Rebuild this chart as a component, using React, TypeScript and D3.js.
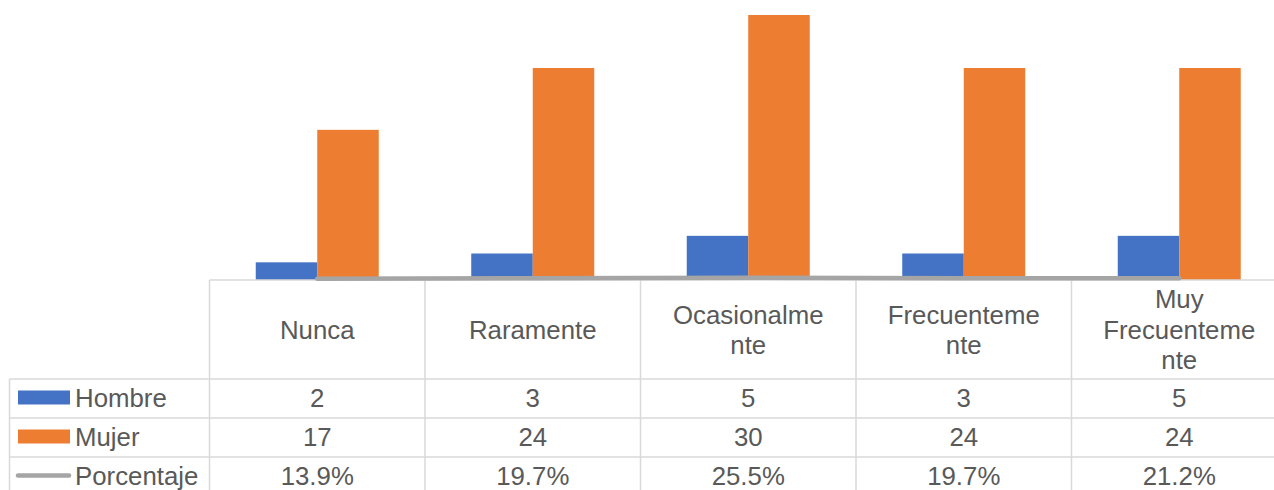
import React from "react";
import * as d3 from "d3";

const categories = ["Nunca", "Raramente", "Ocasionalmente", "Frecuentemente", "Muy Frecuentemente"];
const categoryLabelLines = [["Nunca"], ["Raramente"], ["Ocasionalme", "nte"], ["Frecuenteme", "nte"], ["Muy", "Frecuenteme", "nte"]];
const seriesNames = ["Hombre", "Mujer"];
const hombre = [2, 3, 5, 3, 5];
const mujer = [17, 24, 30, 24, 24];
const porcentaje = [0.139, 0.197, 0.255, 0.197, 0.212];

const W = 1274;
const H = 490;
const BLUE = "#4472c4";
const ORANGE = "#ed7d31";
const GREY = "#a5a5a5";
const GRID = "#d9d9d9";
const TEXT = "#595959";
const FONT = "'Liberation Sans', Arial, sans-serif";
const FS = 25.8;

export default function App() {
  const plotLeft = 209.5;
  const bandW = 215.5;
  const baseY = 280;
  const x0 = d3.scaleBand<string>().domain(categories).range([plotLeft, plotLeft + bandW * categories.length]).padding(0);
  const x1 = d3.scaleBand<string>().domain(seriesNames).range([0, x0.bandwidth()]).paddingInner(0).paddingOuter(0.752);
  const y = d3.scaleLinear().domain([0, 30]).range([baseY, 15]);
  const fmtPct = d3.format(".1%");

  const tableLeft = 9.5;
  const rowTops = [379, 418, 457];
  const rowH = 39;
  const tableRight = x0.range()[1];

  const lineGen = d3
    .line<number>()
    .x((_, i) => (x0(categories[i]) as number) + x0.bandwidth() / 2)
    .y((d) => y(d));

  const series = [
    { name: "Hombre", values: hombre, color: BLUE },
    { name: "Mujer", values: mujer, color: ORANGE },
  ];
  const rows = [
    { name: "Hombre", labels: hombre.map(String) },
    { name: "Mujer", labels: mujer.map(String) },
    { name: "Porcentaje", labels: porcentaje.map(fmtPct) },
  ];

  const lineH = 30.5;
  const catCenterY = (baseY + rowTops[0]) / 2;

  return (
    <svg width={W} height={H} style={{ position: "absolute", left: 0, top: 0, background: "#fff" }} fontFamily={FONT}>
      <rect width={W} height={H} fill="#fff" />
      {/* bars */}
      {series.map((s) =>
        s.values.map((v, i) => (
          <rect
            key={s.name + i}
            x={(x0(categories[i]) as number) + (x1(s.name) as number)}
            y={y(v)}
            width={x1.bandwidth()}
            height={baseY - y(v)}
            fill={s.color}
          />
        ))
      )}
      {/* table grid */}
      <g stroke={GRID} strokeWidth={1.5} fill="none">
        <line x1={plotLeft} x2={tableRight} y1={baseY} y2={baseY} />
        {rowTops.map((t) => (
          <line key={t} x1={tableLeft} x2={tableRight} y1={t} y2={t} />
        ))}
        <line x1={tableLeft} x2={tableLeft} y1={rowTops[0]} y2={H + 10} />
        {categories.map((c) => (
          <line key={c} x1={x0(c) as number} x2={x0(c) as number} y1={baseY} y2={H + 10} />
        ))}
      </g>
      {/* percentage line */}
      <path d={lineGen(porcentaje) || ""} fill="none" stroke={GREY} strokeWidth={4.5} strokeLinecap="round" strokeLinejoin="round" />
      {/* category labels */}
      {categories.map((c, i) => {
        const lines = categoryLabelLines[i];
        const cx = (x0(c) as number) + x0.bandwidth() / 2;
        const firstBase = catCenterY - ((lines.length - 1) * lineH) / 2 + FS * 0.36;
        return (
          <text key={c} x={cx} textAnchor="middle" fontSize={FS} fill={TEXT}>
            {lines.map((l, j) => (
              <tspan key={j} x={cx} y={firstBase + j * lineH}>
                {l}
              </tspan>
            ))}
          </text>
        );
      })}
      {/* data rows */}
      {rows.map((r, ri) => {
        const cy = rowTops[ri] + rowH / 2 - 1;
        return (
          <g key={r.name}>
            {r.name === "Porcentaje" ? (
              <line x1={18} x2={69} y1={cy} y2={cy} stroke={GREY} strokeWidth={4.5} strokeLinecap="round" />
            ) : (
              <rect x={18} y={cy - 7} width={52} height={14} fill={r.name === "Hombre" ? BLUE : ORANGE} />
            )}
            <text x={75} y={cy + FS * 0.36} fontSize={FS} fill={TEXT}>
              {r.name}
            </text>
            {r.labels.map((lab, i) => (
              <text
                key={i}
                x={(x0(categories[i]) as number) + x0.bandwidth() / 2}
                y={cy + FS * 0.36}
                textAnchor="middle"
                fontSize={FS}
                fill={TEXT}
              >
                {lab}
              </text>
            ))}
          </g>
        );
      })}
    </svg>
  );
}
